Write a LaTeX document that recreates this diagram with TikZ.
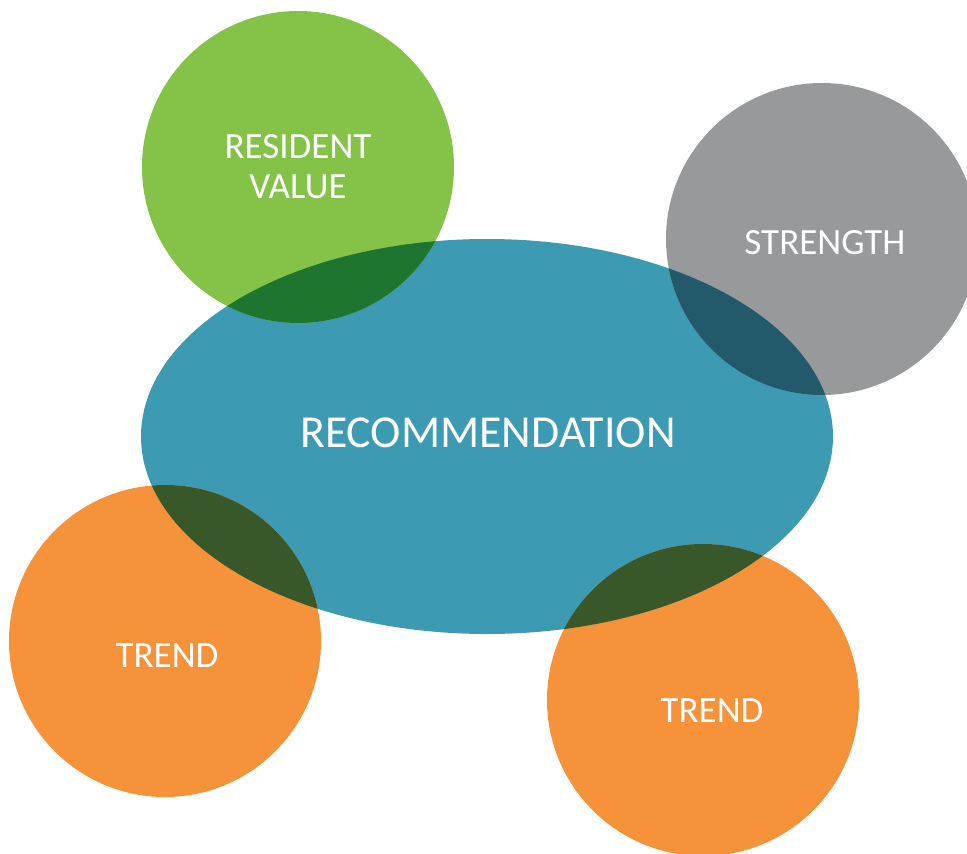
\documentclass[tikz,border=0pt]{standalone}
\usepackage{fontspec}
\setmainfont{Carlito}
\definecolor{cgreen}{HTML}{84C347}
\definecolor{cblue}{HTML}{3C9AB3}
\definecolor{cgray}{HTML}{98999B}
\definecolor{corange}{HTML}{F6923A}
\definecolor{ogreen}{HTML}{1E7530}
\definecolor{ogray}{HTML}{225A6B}
\definecolor{oorange}{HTML}{38582A}
\tikzset{
  lbl/.style={text=white, inner sep=0pt, font=\fontsize{37}{43}\selectfont},
  biglbl/.style={text=white, inner sep=0pt, font=\fontsize{45.8}{52}\selectfont}
}
\begin{document}
\begin{tikzpicture}[x=1pt,y=-1pt]
\useasboundingbox (0,0) rectangle (967,854);
\clip (0,0) rectangle (967,854);
% base shapes
\fill[cblue] (487,436.5) ellipse [x radius=346, y radius=197.5];
\fill[cgreen] (298,167) circle [radius=156];
\fill[cgray] (822,239) circle [radius=156];
\fill[corange] (165,641) circle [radius=156];
\fill[corange] (703,700) circle [radius=156];
% overlaps
\begin{scope}
  \clip (487,436.5) ellipse [x radius=346, y radius=197.5];
  \fill[ogreen] (298,167) circle [radius=156];
  \fill[ogray] (822,239) circle [radius=156];
  \fill[oorange] (165,641) circle [radius=156];
  \fill[oorange] (703,700) circle [radius=156];
\end{scope}
% labels
\node[lbl, align=center] (res) at (298,166.5) {RESIDENT\\[-3pt]VALUE};
\node[lbl, anchor=base] (str) at (825,254) {STRENGTH};
\node[lbl, anchor=base] (tr1) at (167,667) {TREND};
\node[lbl, anchor=base] (tr2) at (712,722) {TREND};
\node[biglbl, anchor=base] (rec) at (488,447) {RECOMMENDATION};
\end{tikzpicture}
\end{document}
